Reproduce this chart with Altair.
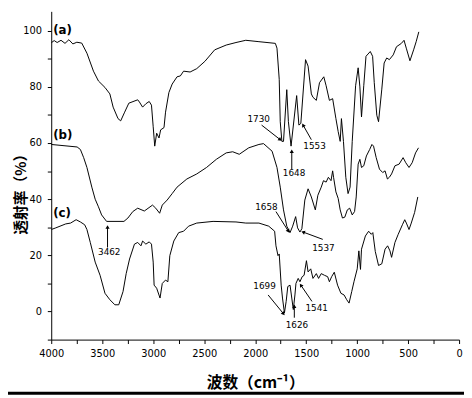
import altair as alt
import pandas as pd

# ---- spectrum (a) ----
wn_a = [4000, 3971, 3942, 3904, 3865, 3827, 3788, 3749, 3701, 3650, 3586, 3537, 3473, 3425, 3393, 3345,
        3319, 3280, 3239, 3152, 3135, 3104, 3072, 3039, 3017, 3000, 2985, 2966, 2943, 2927, 2894, 2879,
        2846, 2814, 2766, 2734, 2702, 2638, 2573, 2493, 2397, 2284, 2188, 2092, 1963, 1802, 1786, 1764,
        1754, 1738, 1722, 1690, 1674, 1648, 1593, 1571, 1552, 1506, 1481, 1449, 1433, 1400, 1369, 1327,
        1304, 1272, 1240, 1208, 1186, 1166, 1154, 1134, 1111, 1089, 1069, 1048, 1015, 990, 973, 957,
        935, 913, 871, 848, 832, 807, 790, 758, 735, 710, 684, 646, 614, 566, 540, 518, 482, 446, 421, 395]
t_a = [95.7, 96.5, 95.8, 96.6, 95.5, 96.8, 95.3, 95.9, 95.6, 92.0, 85.6, 82.1, 79.8, 77.5, 72.8, 68.7,
       67.9, 71.0, 74.2, 75.4, 74.6, 72.8, 74.0, 74.8, 73.5, 65.8, 58.9, 63.5, 61.8, 64.7, 65.5, 71.0,
       78.0, 81.0, 83.6, 83.9, 85.6, 85.3, 86.5, 89.1, 93.2, 94.9, 95.8, 96.6, 96.1, 95.5, 93.8, 82.7,
       67.6, 60.6, 60.6, 79.0, 67.6, 58.9, 76.9, 66.4, 67.0, 89.7, 87.4, 77.5, 76.3, 75.2, 81.5, 83.6,
       80.4, 75.2, 75.8, 68.7, 64.1, 60.6, 68.7, 60.6, 47.8, 42.0, 44.3, 60.6, 80.4, 86.8, 80.0, 69.3,
       80.4, 90.9, 92.6, 90.9, 81.5, 69.9, 67.6, 79.2, 88.5, 90.3, 89.7, 91.4, 94.3, 95.5, 96.6, 93.8,
       89.3, 93.2, 96.1, 99.6]

# ---- spectrum (b) ----
wn_b = [4000, 3746, 3714, 3682, 3650, 3602, 3569, 3537, 3506, 3457, 3287, 3248, 3200, 3152, 3087, 3007,
        2975, 2937, 2911, 2863, 2814, 2766, 2670, 2573, 2477, 2381, 2284, 2220, 2156, 2063, 1963, 1918,
        1834, 1786, 1754, 1722, 1690, 1658, 1632, 1603, 1584, 1561, 1542, 1513, 1481, 1449, 1410, 1385,
        1352, 1330, 1304, 1282, 1256, 1240, 1231, 1208, 1186, 1166, 1144, 1121, 1096, 1073, 1048, 1025,
        1009, 990, 973, 957, 935, 909, 877, 855, 839, 813, 781, 749, 726, 703, 684, 662, 629, 588, 549,
        523, 491, 460, 427, 398]
t_b = [59.5, 58.6, 57.7, 54.8, 51.3, 44.3, 40.0, 37.3, 34.4, 32.1, 32.1, 33.3, 35.6, 36.8, 35.8, 37.9,
       36.8, 35.0, 37.9, 39.7, 42.0, 44.3, 47.2, 49.0, 51.3, 54.2, 56.5, 56.9, 56.0, 58.3, 59.5, 59.8,
       57.1, 51.3, 44.3, 36.2, 30.4, 28.1, 30.4, 33.8, 29.8, 28.3, 29.5, 39.7, 43.7, 40.8, 36.2, 41.4,
       44.3, 46.6, 46.1, 47.8, 46.6, 50.1, 47.8, 42.6, 40.3, 36.2, 33.3, 33.6, 36.2, 36.8, 34.4, 35.6,
       40.8, 52.5, 54.2, 51.3, 51.9, 55.4, 57.7, 59.5, 58.9, 54.8, 50.7, 49.5, 50.1, 47.2, 47.8, 49.0,
       51.9, 52.5, 54.8, 53.0, 51.3, 53.0, 56.5, 58.3]

# ---- spectrum (c) ----
wn_c = [4000, 3955, 3858, 3810, 3756, 3714, 3672, 3650, 3617, 3569, 3521, 3473, 3425, 3376, 3338, 3296,
        3265, 3232, 3184, 3152, 3120, 3104, 3072, 3039, 3017, 3000, 2991, 2966, 2933, 2911, 2879, 2856,
        2837, 2798, 2750, 2702, 2653, 2573, 2413, 2188, 2092, 1963, 1867, 1809, 1796, 1776, 1764, 1745,
        1732, 1713, 1696, 1680, 1658, 1641, 1626, 1610, 1600, 1578, 1561, 1539, 1520, 1497, 1481, 1455,
        1433, 1400, 1378, 1352, 1320, 1289, 1272, 1250, 1224, 1192, 1159, 1128, 1102, 1079, 1053, 1031,
        999, 983, 967, 957, 919, 887, 861, 846, 822, 790, 758, 726, 701, 678, 662, 629, 597, 556, 533,
        517, 491, 469, 436, 405]
t_c = [29.2, 29.8, 31.2, 31.5, 32.7, 31.9, 30.9, 29.2, 24.6, 17.6, 12.9, 6.5, 4.2, 2.4, 2.4, 7.1,
       13.5, 18.7, 24.0, 24.6, 23.4, 25.1, 24.0, 24.8, 24.0, 17.6, 9.4, 8.3, 4.8, 10.0, 11.2, 10.6,
       19.9, 25.1, 28.1, 28.6, 30.4, 31.5, 32.1, 31.9, 31.5, 31.5, 30.4, 28.6, 23.4, 19.9, 20.5, 9.4,
       4.8, -0.5, 3.6, 8.9, 9.4, 4.8, 0.7, 5.9, 10.0, 11.8, 10.6, 12.4, 12.9, 18.1, 14.1, 15.2,
       11.8, 13.5, 11.8, 13.5, 12.9, 12.4, 10.6, 12.4, 14.0, 9.4, 6.5, 5.9, 4.2, 3.0, 7.1, 10.6,
       15.2, 21.6, 15.0, 22.2, 26.9, 28.6, 27.5, 28.1, 21.4, 16.4, 17.0, 22.2, 23.4, 21.6, 19.3, 24.6,
       27.5, 30.9, 32.7, 31.5, 29.2, 31.5, 35.3, 40.8]

# ---- curve labels ----
curve_names = ["(a)", "(b)", "(c)"]
curve_name_wn = [3981, 3981, 3981]
curve_name_t = [100.4, 62.7, 35.1]

# ---- peak annotations ----
peak_labels = ["1730", "1648", "1553", "1658", "1537", "3462", "1699", "1541", "1626"]
peak_text_wn = [1966, 1619, 1417, 1889, 1330, 3431, 1908, 1397, 1590]
peak_text_t = [68.6, 49.3, 58.9, 37.3, 22.5, 21.1, 8.9, 1.3, -4.9]
arrow_wn1 = [1937, 1641, 1449, 1796, 1337, 3448, 1873, 1443, 1616]
arrow_t1 = [66.4, 50.7, 61.2, 35.6, 25.7, 22.8, 5.9, 3.6, -2.2]
arrow_wn2 = [1754, 1641, 1530, 1674, 1530, 3448, 1722, 1552, 1616]
arrow_t2 = [61.2, 57.1, 66.4, 28.6, 28.3, 30.1, -0.8, 9.4, 1.9]
arrow_angle = [128, 0, 331, 148, 290, 0, 141, 326, 0]

x_ticks = list(range(0, 4001, 250))
y_ticks = list(range(-10, 101, 10))

rows = []
for name, wns, ts in (("a", wn_a, t_a), ("b", wn_b, t_b), ("c", wn_c, t_c)):
    for i, (w, t) in enumerate(zip(wns, ts)):
        rows.append({"series": name, "i": i, "wn": w, "t": t})
spec_df = pd.DataFrame(rows)

names_df = pd.DataFrame({"wn": curve_name_wn, "t": curve_name_t, "label": curve_names})
peaks_df = pd.DataFrame({"wn": peak_text_wn, "t": peak_text_t, "label": peak_labels})
arrows_df = pd.DataFrame({"wn": arrow_wn1, "t": arrow_t1, "wn2": arrow_wn2, "t2": arrow_t2,
                          "ang": arrow_angle})

x_axis = alt.Axis(values=x_ticks, labelExpr="datum.value % 500 == 0 ? datum.label : ''",
                  format="d", tickSize=4, tickColor="black", domainColor="black", grid=False,
                  labelFont="DejaVu Sans", labelFontSize=10, labelColor="black", labelFlush=False,
                  labelOverlap=False, labelPadding=5,
                  titleFont="Noto Sans CJK SC", titleFontSize=16, titleFontWeight="bold",
                  titleColor="black", titleY=44, titleBaseline="middle")
y_axis = alt.Axis(values=y_ticks, labelExpr="datum.value % 20 == 0 ? datum.label : ''",
                  format="d", tickSize=4, tickColor="black", domainColor="black", grid=False,
                  labelFont="DejaVu Sans", labelFontSize=10, labelColor="black", labelFlush=False,
                  labelOverlap=False, labelPadding=6,
                  titleFont="Noto Sans CJK SC", titleFontSize=15, titleFontWeight="bold",
                  titleColor="black", titleAngle=270, titleX=-31, titleY=182,
                  titleAlign="center", titleBaseline="middle")

xs = alt.Scale(domain=[4000, 0], nice=False, zero=False)
ys = alt.Scale(domain=[-10, 106.9], nice=False, zero=False)
X = alt.X("wn:Q", scale=xs, axis=x_axis, title="波数（cm⁻¹）")
Y = alt.Y("t:Q", scale=ys, axis=y_axis, title="透射率（%）")

lines = alt.Chart(spec_df).mark_line(color="black", strokeWidth=1, clip=True).encode(
    x=X, y=Y, detail="series:N", order="i:Q")

names = alt.Chart(names_df).mark_text(font="DejaVu Sans", fontSize=12, fontWeight="bold",
                                      align="left", baseline="middle", color="black").encode(
    x=X, y=Y, text="label:N")

peaks = alt.Chart(peaks_df).mark_text(font="DejaVu Sans", fontSize=9, align="center",
                                      baseline="middle", color="black").encode(
    x=X, y=Y, text="label:N")

arrow_lines = alt.Chart(arrows_df).mark_rule(color="black", strokeWidth=1).encode(
    x=X, y=Y, x2="wn2:Q", y2="t2:Q")

arrow_heads = alt.Chart(arrows_df).mark_point(shape="triangle-up", filled=True, size=18,
                                              color="black", opacity=1).encode(
    x=alt.X("wn2:Q", scale=xs, axis=x_axis, title="波数（cm⁻¹）"),
    y=alt.Y("t2:Q", scale=ys, axis=y_axis, title="透射率（%）"),
    angle=alt.Angle("ang:Q", scale=None))

bar = alt.Chart(pd.DataFrame({"k": [0]})).mark_rule(color="black", strokeWidth=3).encode(
    x=alt.value(-60), x2=alt.value(440), y=alt.value(388.5))

chart = alt.layer(lines, names, peaks, arrow_lines, arrow_heads, bar).properties(
    width=415, height=334,
    autosize=alt.AutoSizeParams(type="none"),
    padding={"left": 44, "top": 0, "right": 5, "bottom": 56},
    background="white",
).configure_view(stroke=None)

chart.save("out.html", embed_options={"renderer": "svg", "actions": False})
